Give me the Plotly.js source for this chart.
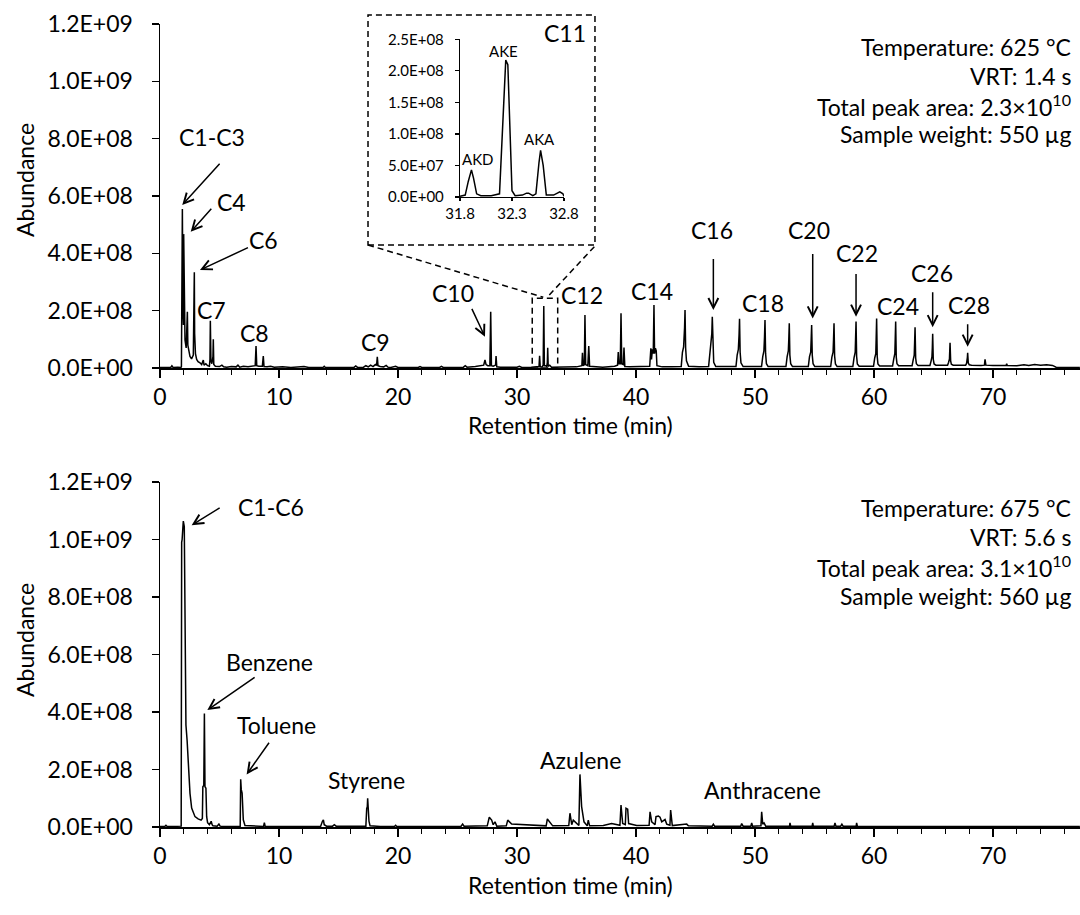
<!DOCTYPE html>
<html><head><meta charset="utf-8">
<script src="https://cdn.plot.ly/plotly-3.0.1.min.js"></script>
<style>html,body{margin:0;padding:0;background:#fff}#chart{width:1080px;height:915px}</style>
</head><body><div id="chart"></div>
<script>
// Abundance values are in millions (x 1e6)
const UNIT = 1e6;

// ---- Top chromatogram: 625 °C, VRT 1.4 s ----
const topTime = [
  0, 0.5, 0.9, 1.0, 1.1, 1.5, 1.76,
  1.8, 1.86, 1.88, 1.93, 1.97, 1.99, 2.03, 2.1, 2.2, 2.27, 2.3, 2.34, 2.42, 2.52, 2.65, 2.8, 2.86, 2.885, 2.91, 2.98, 3.08, 3.2, 3.36, 3.5, 3.64, 3.7, 3.85, 4.0, 4.15,
  4.2, 4.23, 4.28, 4.36, 4.45, 4.48, 4.52, 4.65, 5.0, 5.2, 5.35, 5.6, 6.0, 6.4, 6.55, 6.7, 7.0, 7.4, 7.8, 8.0, 8.07, 8.13, 8.3, 8.6, 8.68, 8.74, 9.0, 9.3, 9.6, 10.3,
  11.0, 12.1, 12.5, 13.7, 13.8, 13.9, 15.5, 16.3, 16.45, 16.6, 17.1, 17.3, 17.5, 17.7, 17.9, 18.1, 18.2, 18.26, 18.32, 18.5, 18.8, 19.0, 19.15, 19.4, 19.8, 20.0, 20.3, 21.7, 21.85, 22.0, 23.5, 23.65, 23.8, 25.0, 25.5, 25.65, 25.8, 26.5, 27.0, 27.2,
  27.31, 27.4, 27.55, 27.72, 27.79, 27.85, 28.0, 28.2, 28.24, 28.3, 28.6, 29.0, 30.0, 30.2, 30.4, 31.2, 31.85, 31.9, 31.95, 32.1, 32.2, 32.25, 32.3, 32.4, 32.5, 32.55, 32.58, 32.62, 32.75, 32.9, 33.5, 34.5,
  35.0, 35.45, 35.5, 35.56, 35.66, 35.71, 35.77, 35.95, 36.03, 36.1, 36.5, 37.2, 38.2, 38.45, 38.51, 38.57, 38.68, 38.74, 38.8, 38.93, 38.99, 39.06, 39.5, 40.3, 41.15, 41.25, 41.3, 41.38, 41.45, 41.51, 41.56, 41.63, 41.7, 41.76, 42.2, 43.0,
  43.8, 43.9, 44.0, 44.08, 44.12, 44.17, 44.24, 44.42,
  45.3, 46.1, 46.2, 46.3, 46.37, 46.41, 46.46, 46.53, 46.7,
  47.6, 48.4, 48.5, 48.6, 48.66, 48.7, 48.75, 48.82, 49.0,
  49.8, 50.55, 50.65, 50.75, 50.8, 50.84, 50.89, 50.96, 51.1,
  51.9, 52.6, 52.7, 52.8, 52.84, 52.88, 52.93, 53.0, 53.15,
  53.8, 54.48, 54.58, 54.68, 54.72, 54.76, 54.81, 54.88, 55.02,
  55.7, 56.36, 56.46, 56.56, 56.6, 56.64, 56.69, 56.76, 56.9,
  57.6, 58.22, 58.32, 58.42, 58.45, 58.49, 58.54, 58.6, 58.75,
  59.4, 59.96, 60.06, 60.15, 60.18, 60.22, 60.27, 60.33, 60.47,
  61.0, 61.56, 61.66, 61.75, 61.78, 61.82, 61.87, 61.93, 62.07,
  62.6, 63.2, 63.3, 63.38, 63.41, 63.45, 63.5, 63.56, 63.7,
  64.2, 64.7, 64.8, 64.87, 64.9, 64.93, 64.98, 65.05, 65.2,
  65.7, 66.18, 66.27, 66.34, 66.36, 66.39, 66.44, 66.5, 66.65,
  67.2, 67.7, 67.78, 67.83, 67.85, 67.87, 67.92, 68.0, 68.2,
  69.0, 69.28, 69.33, 69.4, 70.0, 71.1, 71.15, 71.2, 72.0, 72.6, 73.0, 73.5, 74.0, 74.5, 75.0, 75.3, 77.3
];
const topAbund = [
  2, 2, 2, 8, 2, 3, 2,
  5, 300, 555, 200, 150, 467, 160, 98, 70, 140, 196, 80, 55, 40, 32, 45, 250, 334, 120, 50, 30, 22, 18, 12, 28, 10, 15, 8, 6,
  30, 165, 25, 15, 40, 100, 12, 6, 5, 10, 4, 3, 5, 4, 10, 3, 6, 4, 6, 8, 77, 8, 6, 6, 42, 5, 4, 6, 3, 4,
  2, 5, 2, 2, 6, 2, 2, 2, 7, 2, 3, 8, 4, 10, 5, 12, 9, 39, 8, 5, 4, 9, 3, 2, 6, 2, 2, 2, 5, 2, 2, 6, 2, 3, 3, 8, 3, 5, 8, 10,
  28, 12, 8, 8, 196, 8, 6, 10, 42, 4, 3, 3, 3, 6, 2, 3, 5, 43, 4, 3, 10, 216, 8, 8, 5, 20, 71, 6, 10, 3, 3, 4,
  4, 8, 53, 8, 12, 185, 12, 8, 77, 6, 4, 3, 6, 10, 56, 15, 15, 191, 15, 12, 71, 5, 4, 4, 6, 69, 30, 65, 50, 220, 50, 69, 60, 8, 4, 4,
  5, 55, 74, 140, 202, 70, 25, 6,
  4, 5, 50, 70, 120, 179, 65, 20, 5,
  4, 5, 45, 65, 115, 172, 55, 18, 5,
  4, 5, 40, 60, 110, 167, 50, 15, 5,
  4, 5, 40, 60, 100, 156, 45, 15, 5,
  4, 5, 40, 55, 100, 150, 45, 15, 5,
  4, 5, 38, 55, 100, 156, 42, 14, 5,
  4, 5, 35, 55, 100, 162, 40, 14, 6,
  5, 6, 35, 50, 100, 173, 40, 14, 7,
  6, 7, 32, 50, 95, 162, 38, 15, 8,
  7, 8, 30, 45, 85, 142, 35, 15, 9,
  8, 9, 25, 40, 70, 119, 30, 14, 10,
  9, 10, 20, 32, 55, 88, 25, 13, 10,
  10, 10, 16, 25, 38, 53, 18, 11, 10,
  9, 10, 30, 10, 9, 9, 15, 9, 8, 11, 9, 12, 10, 11, 9, 3, 2
];

// ---- Inset: C11 detail ----
const insetTime = [31.8, 31.85, 31.88, 31.91, 31.93, 31.96, 32.0, 32.1, 32.18, 32.21, 32.24, 32.26, 32.28, 32.3, 32.33, 32.4, 32.44, 32.46, 32.5, 32.53, 32.56, 32.575, 32.6, 32.63, 32.7, 32.74, 32.76, 32.79, 32.8];
const insetAbund = [1, 3, 25, 43, 30, 5, 2, 2, 5, 120, 217, 210, 100, 10, 2, 3, 6, 6, 2, 5, 55, 74, 50, 3, 3, 7, 8, 5, 1];

// ---- Bottom chromatogram: 675 °C, VRT 5.6 s ----
const botTime = [
  0, 0.4, 0.5, 0.6, 1.0, 1.78,
  1.82, 1.86, 1.92, 1.96, 2.04, 2.1, 2.15, 2.18, 2.28, 2.38, 2.52, 2.66, 2.94, 3.2, 3.45, 3.56, 3.6, 3.68, 3.73, 3.78, 3.86, 3.92, 4.0, 4.15, 4.3, 4.38, 4.45, 4.8, 4.95, 5.05, 5.3,
  6.74, 6.78, 6.83, 6.9, 7.0, 7.14, 8.0, 8.7, 8.77, 8.84, 10.0, 11.5, 13.5, 13.65, 13.73, 13.8, 14.0, 14.5, 14.65, 14.8, 16.0, 17.3, 17.37, 17.42, 17.45, 17.5, 17.56, 17.65, 18.5, 19.7, 19.8, 19.9,
  20.5, 25.3, 25.43, 25.55, 27.5, 27.67, 27.87, 28.0, 28.15, 28.3, 29.1, 29.22, 29.55, 31.5, 32.45, 32.55, 32.77, 33.0, 34.35, 34.45, 34.6, 34.73, 35.2, 35.29, 35.43, 35.63, 35.9, 35.99, 36.1, 37.25, 37.95, 38.65, 38.74, 38.88, 39.1, 39.16, 39.3, 39.38, 40.06, 41.1, 41.18, 41.32, 41.6, 41.68, 41.88, 42.02, 42.16, 42.44, 42.58, 42.85, 42.91, 43.05, 44.26, 44.4,
  46.4, 46.5, 46.6, 48.8, 48.88, 49.0, 49.65, 49.72, 49.8, 50.5, 50.56, 50.65, 50.76, 50.9, 52.9, 52.94, 53.0, 54.8, 54.85, 54.9, 56.65, 56.72, 56.8, 57.2, 57.3, 57.4, 58.5, 58.54, 58.6, 60.0, 77.3
];
const botAbund = [
  2, 2, 6, 2, 2, 3,
  990, 1000, 1040, 1064, 1045, 820, 600, 355, 300, 233, 117, 66, 36, 28, 24, 30, 140, 145, 395, 140, 135, 36, 15, 8, 20, 8, 4, 3, 10, 3, 2,
  3, 166, 130, 118, 25, 5, 2, 2, 15, 2, 2, 2, 3, 20, 25, 8, 3, 3, 8, 3, 2, 3, 65, 70, 100, 60, 20, 4, 2, 2, 6, 2,
  2, 3, 10, 3, 4, 34, 24, 8, 18, 3, 4, 24, 10, 5, 4, 28, 14, 4, 5, 48, 8, 24, 5, 183, 71, 18, 4, 24, 4, 5, 12, 6, 76, 12, 8, 65, 62, 12, 5, 6, 53, 18, 8, 36, 38, 34, 18, 26, 10, 6, 59, 5, 10, 4,
  3, 10, 3, 3, 12, 3, 3, 14, 3, 4, 53, 10, 14, 3, 3, 14, 3, 3, 14, 3, 3, 14, 3, 3, 10, 3, 3, 14, 3, 2, 2
];

// ---- Tick labels ----
const yTickVals = [0, 2e8, 4e8, 6e8, 8e8, 1e9, 1.2e9];
const yTickText = ['0.0E+00', '2.0E+08', '4.0E+08', '6.0E+08', '8.0E+08', '1.0E+09', '1.2E+09'];
const insetYTickVals = [0, 5e7, 1e8, 1.5e8, 2e8, 2.5e8];
const insetYTickText = ['0.0E+00', '5.0E+07', '1.0E+08', '1.5E+08', '2.0E+08', '2.5E+08'];
const insetXTickVals = [31.8, 32.3, 32.8];
const insetXTickText = ['31.8', '32.3', '32.8'];

// ---- Info text ----
const topInfo = ['Temperature: 625 °C', 'VRT: 1.4 s', 'Total peak area: 2.3×10<sup>10</sup>', 'Sample weight: 550 µg'];
const botInfo = ['Temperature: 675 °C', 'VRT: 5.6 s', 'Total peak area: 3.1×10<sup>10</sup>', 'Sample weight: 560 µg'];

// ---- Peak labels: [text, x, y(millions)] ----
const topLabels = [
  ['C1-C3', 4.37, 806], ['C4', 6.03, 580], ['C6', 8.68, 447], ['C7', 4.34, 202], ['C8', 7.98, 121],
  ['C9', 18.15, 92], ['C10', 24.65, 261], ['C12', 35.44, 255], ['C14', 41.37, 270], ['C16', 46.36, 481],
  ['C18', 50.65, 226], ['C20', 54.56, 481], ['C22', 58.6, 400], ['C24', 61.99, 216], ['C26', 64.85, 330], ['C28', 68.01, 220]
];
// arrows: [tailX, tailY, tipX, tipY]
const topArrows = [
  [5.18, 720, 1.87, 569], [4.48, 563, 2.58, 475], [7.56, 423, 3.36, 342], [26.05, 220, 27.31, 109],
  [46.5, 394, 46.5, 202], [54.85, 412, 54.85, 173], [58.49, 342, 58.49, 179], [64.93, 278, 64.93, 142], [67.87, 167, 67.87, 74]
];
const botLabels = [
  ['C1-C6', 9.30, 1112], ['Benzene', 9.19, 573], ['Toluene', 9.75, 355], ['Styrene', 17.37, 163],
  ['Azulene', 35.35, 233], ['Anthracene', 50.64, 129]
];
const botArrows = [
  [5.18, 1114, 2.66, 1050], [8.12, 525, 3.98, 407], [9.33, 303, 7.28, 183]
];

const FONT = 'Lato, "Liberation Sans", sans-serif';
const FS = 23;
const m = v => v * UNIT;

const traces = [
  {x: topTime, y: topAbund.map(m), xaxis: 'x', yaxis: 'y', mode: 'lines', line: {color: '#000', width: 1.5}, hoverinfo: 'skip'},
  {x: botTime, y: botAbund.map(m), xaxis: 'x2', yaxis: 'y2', mode: 'lines', line: {color: '#000', width: 1.5}, hoverinfo: 'skip'},
  {x: insetTime, y: insetAbund.map(m), xaxis: 'x3', yaxis: 'y3', mode: 'lines', line: {color: '#000', width: 1.5}, hoverinfo: 'skip'}
];

function xAxis(anchor) {
  return {
    anchor: anchor, domain: [0, 1], range: [0, 77.31], tickmode: 'linear', tick0: 0, dtick: 10,
    showline: true, linecolor: '#000', linewidth: 1.5, ticks: 'outside', ticklen: 8, tickwidth: 1.5, tickcolor: '#000',
    minor: {tickmode: 'linear', tick0: 0, dtick: 2, ticks: 'outside', ticklen: 5, tickwidth: 1.2, tickcolor: '#000', showgrid: false},
    showgrid: false, zeroline: false, tickfont: {size: FS, family: FONT, color: '#000'}, fixedrange: true
  };
}
function yAxis(anchor, domain) {
  return {
    anchor: anchor, domain: domain, range: [0, 1.2e9], tickmode: 'array', tickvals: yTickVals, ticktext: yTickText,
    showline: true, linecolor: '#000', linewidth: 1.5, ticks: 'outside', ticklen: 7, tickwidth: 1.5, tickcolor: '#000',
    showgrid: false, zeroline: false, tickfont: {size: FS, family: FONT, color: '#000'}, ticklabelstandoff: 14, fixedrange: true
  };
}

const annotations = [];
function addLabels(list, xr, yr, size) {
  list.forEach(([t, x, y]) => annotations.push({text: t, x: x, y: m(y), xref: xr, yref: yr, showarrow: false,
    font: {size: size, family: FONT, color: '#000'}, xanchor: 'center', yanchor: 'middle'}));
}
function addArrows(list, xr, yr) {
  list.forEach(([ax, ay, x, y]) => annotations.push({text: ' ', x: x, y: m(y), ax: ax, ay: m(ay), xref: xr, yref: yr,
    axref: xr, ayref: yr, showarrow: true, arrowhead: 5, arrowsize: 1.3, arrowwidth: 1.5, arrowcolor: '#000', standoff: 0, startstandoff: 0,
    font: {size: 4}}));
}
addLabels(topLabels, 'x', 'y', FS);
addArrows(topArrows, 'x', 'y');
addLabels(botLabels, 'x2', 'y2', FS);
addArrows(botArrows, 'x2', 'y2');

// inset labels
[['AKD', 31.973, 60], ['AKE', 32.223, 231], ['AKA', 32.569, 92]].forEach(([t, x, y]) => annotations.push({
  text: t, x: x, y: m(y), xref: 'x3', yref: 'y3', showarrow: false, font: {size: 15, family: FONT, color: '#000'}}));
annotations.push({text: 'C11', x: 0.4402, y: 0.9888, xref: 'paper', yref: 'paper', showarrow: false,
  font: {size: FS, family: FONT, color: '#000'}, xanchor: 'center', yanchor: 'middle'});

// info blocks
const topInfoY = [0.9713, 0.9352, 0.8991, 0.8630];
const botInfoY = [0.3973, 0.3611, 0.3250, 0.2877];
topInfo.forEach((t, i) => annotations.push({text: t, x: 0.9924, y: topInfoY[i], xref: 'paper', yref: 'paper', showarrow: false,
  xanchor: 'right', yanchor: 'middle', font: {size: FS, family: FONT, color: '#000'}}));
botInfo.forEach((t, i) => annotations.push({text: t, x: 0.9924, y: botInfoY[i], xref: 'paper', yref: 'paper', showarrow: false,
  xanchor: 'right', yanchor: 'middle', font: {size: FS, family: FONT, color: '#000'}}));

// axis titles
[[0.4457, 0.5006], [0.4457, -0.0722]].forEach(([x, y]) => annotations.push({text: 'Retention time (min)', x: x, y: y,
  xref: 'paper', yref: 'paper', showarrow: false, xanchor: 'center', yanchor: 'middle', font: {size: FS, family: FONT, color: '#000'}}));
[[-0.1467, 0.8057], [-0.1467, 0.2329]].forEach(([x, y]) => annotations.push({text: 'Abundance', x: x, y: y, textangle: -90,
  xref: 'paper', yref: 'paper', showarrow: false, xanchor: 'center', yanchor: 'middle', font: {size: FS, family: FONT, color: '#000'}}));

const dashed = {color: '#000', width: 1.5, dash: '6px,4px'};
const shapes = [
  {type: 'rect', xref: 'paper', yref: 'paper', x0: 0.2261, x1: 0.4728, y0: 0.7248, y1: 1.0112, line: dashed, fillcolor: 'rgba(0,0,0,0)'},
  {type: 'rect', xref: 'x', yref: 'y', x0: 31.28, x1: 33.42, y0: 0, y1: 2.43e8, line: dashed, fillcolor: 'rgba(0,0,0,0)'},
  {type: 'line', xref: 'paper', yref: 'paper', x0: 0.2261, y0: 0.7248, x1: 0.4166, y1: 0.6597, line: dashed},
  {type: 'line', xref: 'paper', yref: 'paper', x0: 0.4721, y0: 0.7227, x1: 0.4221, y1: 0.6613, line: dashed}
];

const layout = {
  width: 1080, height: 915, margin: {l: 160, r: 0, t: 24, b: 88},
  font: {family: FONT, size: FS, color: '#000'}, showlegend: false,
  paper_bgcolor: '#fff', plot_bgcolor: 'rgba(0,0,0,0)',
  xaxis: xAxis('y'), yaxis: yAxis('x', [0.5716, 1]),
  xaxis2: xAxis('y2'), yaxis2: yAxis('x2', [0, 0.4296]),
  xaxis3: {anchor: 'y3', domain: [0.3261, 0.4391], range: [31.8, 32.8], tickmode: 'array', tickvals: insetXTickVals, ticktext: insetXTickText,
    showline: true, linecolor: '#000', linewidth: 1.2, ticks: 'outside', ticklen: 3, tickwidth: 1.2, tickcolor: '#000',
    showgrid: false, zeroline: false, tickfont: {size: 15, family: FONT, color: '#000'}, fixedrange: true},
  yaxis3: {anchor: 'x3', domain: [0.7846, 0.9809], range: [0, 2.5e8], tickmode: 'array', tickvals: insetYTickVals, ticktext: insetYTickText,
    showline: true, linecolor: '#000', linewidth: 1.2, ticks: 'outside', ticklen: 4, tickwidth: 1.2, tickcolor: '#000',
    showgrid: false, zeroline: false, tickfont: {size: 15, family: FONT, color: '#000'}, ticklabelstandoff: 8, fixedrange: true},
  shapes: shapes, annotations: annotations
};

Plotly.newPlot('chart', traces, layout, {displayModeBar: false, staticPlot: true});
</script>
</body></html>
